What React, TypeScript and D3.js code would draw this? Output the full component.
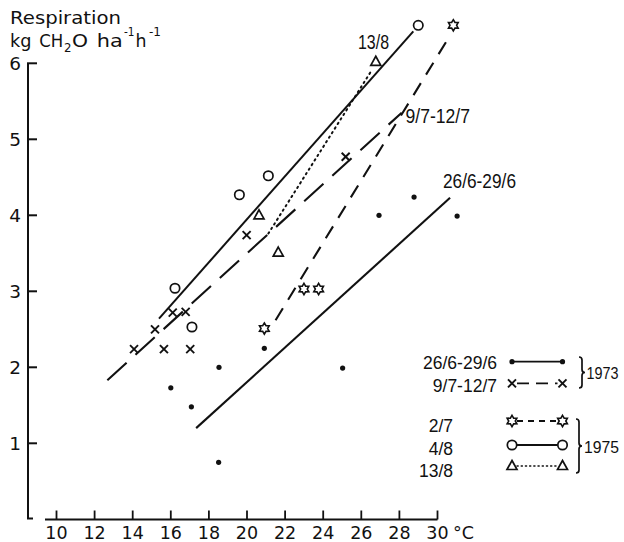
import React from "react";
import * as d3 from "d3";

// ---- data (temperature °C, respiration kg CH2O ha-1 h-1) ----
const xTicks = [10, 12, 14, 16, 18, 20, 22, 24, 26, 28, 30];
const yTicks = [1, 2, 3, 4, 5, 6];

// 1973, 26/6-29/6 (dots)
const pts1973a: [number, number][] = [
  [16.0, 1.73], [17.08, 1.48], [18.53, 2.0], [18.51, 0.75], [20.91, 2.25],
  [25.02, 1.99], [26.93, 4.0], [28.77, 4.24], [31.03, 3.99],
];
const line1973a: [number, number][] = [[17.33, 1.2], [30.66, 4.23]];

// 1973, 9/7-12/7 (crosses)
const pts1973b: [number, number][] = [
  [14.07, 2.24], [15.64, 2.24], [17.02, 2.24], [15.17, 2.5], [16.1, 2.72],
  [16.78, 2.73], [19.98, 3.74], [25.18, 4.77],
];
const line1973b: [number, number][] = [[12.67, 1.83], [28.12, 5.35]];

// 1975, 2/7 (stars)
const pts2_7: [number, number][] = [[20.91, 2.51], [22.99, 3.03], [23.76, 3.03], [30.83, 6.5]];
const line2_7: [number, number][] = [[21.5, 2.62], [30.57, 6.33]];

// 1975, 4/8 (circles)
const pts4_8: [number, number][] = [[16.22, 3.04], [17.11, 2.53], [19.6, 4.27], [21.12, 4.52], [28.99, 6.5]];
const line4_8: [number, number][] = [[15.38, 2.64], [28.73, 6.42]];

// 1975, 13/8 (triangles)
const pts13_8: [number, number][] = [[20.63, 4.0], [21.64, 3.51], [26.76, 6.02]];
const line13_8: [number, number][] = [[21.12, 3.76], [26.55, 5.91]];

type MarkerType = "dot" | "cross" | "star" | "circle" | "triangle";

const legendLabels = ["26/6-29/6", "9/7-12/7", "2/7", "4/8", "13/8"];
const legendMarkers: MarkerType[] = ["dot", "cross", "star", "circle", "triangle"];
const legendDash = ["", "12 7", "6 5", "", "1.2 3"];
const legendYears = ["1973", "1975"];

const x = d3.scaleLinear().domain([10, 30]).range([56.5, 437.5]);
const y = d3.scaleLinear().domain([0, 6]).range([519.3, 63.3]);

const INK = "#111";

function starPath(cx: number, cy: number, R: number, r: number) {
  const pts: [number, number][] = [];
  for (let i = 0; i < 12; i++) {
    const a = -Math.PI / 2 + (i * Math.PI) / 6;
    const rad = i % 2 === 0 ? R : r;
    pts.push([cx + rad * Math.cos(a), cy + rad * Math.sin(a)]);
  }
  return "M" + pts.map((p) => p.join(",")).join("L") + "Z";
}

function Marker({ type, cx, cy }: { type: MarkerType; cx: number; cy: number }) {
  switch (type) {
    case "dot":
      return <circle cx={cx} cy={cy} r={2.6} fill={INK} />;
    case "cross":
      return (
        <g stroke={INK} strokeWidth={1.9}>
          <line x1={cx - 4} y1={cy - 4} x2={cx + 4} y2={cy + 4} />
          <line x1={cx - 4} y1={cy + 4} x2={cx + 4} y2={cy - 4} />
        </g>
      );
    case "star":
      return <path d={starPath(cx, cy, 5.6, 3.3)} fill="white" stroke={INK} strokeWidth={1.6} />;
    case "circle":
      return <circle cx={cx} cy={cy} r={4.7} fill="white" stroke={INK} strokeWidth={1.7} />;
    case "triangle":
      return (
        <path
          d={`M${cx},${cy - 5.5}L${cx + 5},${cy + 3.5}L${cx - 5},${cy + 3.5}Z`}
          fill="white"
          stroke={INK}
          strokeWidth={1.7}
        />
      );
  }
}

function brace(bx: number, y0: number, y1: number, w: number) {
  const ym = (y0 + y1) / 2;
  const r = 3;
  return `M${bx},${y0} Q${bx + w},${y0} ${bx + w},${y0 + r} L${bx + w},${ym - r} Q${bx + w},${ym} ${bx + 2 * w},${ym} Q${bx + w},${ym} ${bx + w},${ym + r} L${bx + w},${y1 - r} Q${bx + w},${y1} ${bx},${y1}`;
}

const lineGen = d3
  .line<[number, number]>()
  .x((d) => x(d[0]))
  .y((d) => y(d[1]));

export default function App() {
  const labelFont = "'Liberation Sans', Arial, sans-serif";
  const axisFont = "'DejaVu Sans', 'Liberation Sans', sans-serif";

  const series: { pts: [number, number][]; line: [number, number][]; type: MarkerType; dash: string; w: number }[] = [
    { pts: pts1973a, line: line1973a, type: "dot", dash: "", w: 2.1 },
    { pts: pts1973b, line: line1973b, type: "cross", dash: "26 12", w: 2.1 },
    { pts: pts2_7, line: line2_7, type: "star", dash: "14 10", w: 2.1 },
    { pts: pts4_8, line: line4_8, type: "circle", dash: "", w: 2.0 },
    { pts: pts13_8, line: line13_8, type: "triangle", dash: "1.4 4", w: 2.0 },
  ];

  const legendRowY = [361.7, 383.3, 421, 445, 466];
  const legendTextY = [369.3, 391.5, 431.5, 455, 476.5];
  const legendTextX = [497, 497, 453, 453, 453];

  // title line 2 pieces: [text, x, width, baseline, size]
  const unitParts: [string, number, number, number, number][] = [
    ["kg", 10, 21.5, 46.7, 18],
    ["CH", 39.3, 24, 46.7, 18],
    ["2", 64, 7.5, 52, 12.5],
    ["O", 72, 16, 46.7, 18],
    ["ha", 96.7, 26, 46.7, 18],
    ["-1", 124, 10.5, 35.5, 11.5],
    ["h", 135.5, 11, 46.7, 18],
    ["-1", 149, 12, 35.5, 11.5],
  ];

  return (
    <svg
      width={624}
      height={542}
      style={{ position: "absolute", left: 0, top: 0, background: "white" }}
    >
      <rect x={0} y={0} width={624} height={542} fill="white" />

      {/* Title */}
      <text x={10} y={24} fontFamily={axisFont} fontSize={18} fill={INK} textLength={111} lengthAdjust="spacingAndGlyphs">
        Respiration
      </text>
      {unitParts.map(([s, px, w, by, fs], i) => (
        <text
          key={"u" + i}
          x={px}
          y={by}
          fontFamily={axisFont}
          fontSize={fs}
          fill={INK}
          textLength={w}
          lengthAdjust="spacingAndGlyphs"
        >
          {s}
        </text>
      ))}

      {/* Y axis */}
      <line x1={28} y1={y(6)} x2={28} y2={518.5} stroke={INK} strokeWidth={2} />
      <line x1={27} y1={518.5} x2={33} y2={518.5} stroke={INK} strokeWidth={2} />
      {yTicks.map((v) => (
        <g key={v}>
          <line x1={27} y1={y(v)} x2={37} y2={y(v)} stroke={INK} strokeWidth={2} />
          <text x={21} y={y(v) + 6.5} textAnchor="end" fontFamily={axisFont} fontSize={18.5} fill={INK}>
            {v}
          </text>
        </g>
      ))}

      {/* X axis */}
      <line x1={45} y1={519.5} x2={x(30)} y2={519.5} stroke={INK} strokeWidth={2} />
      {xTicks.map((t) => (
        <g key={t}>
          <line x1={x(t)} y1={519.5} x2={x(t)} y2={510.5} stroke={INK} strokeWidth={1.8} />
          <text x={x(t)} y={538.5} textAnchor="middle" fontFamily={axisFont} fontSize={17.5} fill={INK}>
            {t}
          </text>
        </g>
      ))}
      <text x={453} y={538.5} fontFamily={axisFont} fontSize={17.5} fill={INK}>
        °C
      </text>

      {/* Lines */}
      {series.map((s, i) => (
        <path
          key={"l" + i}
          d={lineGen(s.line) || ""}
          fill="none"
          stroke={INK}
          strokeWidth={s.w}
          strokeDasharray={s.dash || undefined}
          strokeLinecap={s.type === "triangle" ? "round" : "butt"}
        />
      ))}

      {/* Points */}
      {series.map((s, i) =>
        s.pts.map((p, j) => <Marker key={`m${i}-${j}`} type={s.type} cx={x(p[0])} cy={y(p[1])} />)
      )}

      {/* Inline labels */}
      <text x={358} y={49} fontFamily={labelFont} fontSize={19.5} fill={INK} textLength={31} lengthAdjust="spacingAndGlyphs">
        13/8
      </text>
      <text x={405.5} y={122.7} fontFamily={labelFont} fontSize={19.5} fill={INK} textLength={64.5} lengthAdjust="spacingAndGlyphs">
        9/7-12/7
      </text>
      <text x={443} y={187.7} fontFamily={labelFont} fontSize={19.5} fill={INK} textLength={73} lengthAdjust="spacingAndGlyphs">
        26/6-29/6
      </text>

      {/* Legend */}
      {legendLabels.map((lab, i) => {
        const ly = legendRowY[i];
        const x0 = 512;
        const x1 = 562.5;
        const t = legendMarkers[i];
        const pad = t === "dot" ? 0 : 5;
        return (
          <g key={"lg" + i}>
            <text
              x={legendTextX[i]}
              y={legendTextY[i]}
              textAnchor="end"
              fontFamily={labelFont}
              fontSize={17.5}
              fill={INK}
            >
              {lab}
            </text>
            <line
              x1={x0 + pad}
              y1={ly}
              x2={x1 - pad}
              y2={ly}
              stroke={INK}
              strokeWidth={t === "triangle" ? 1.4 : 1.8}
              strokeDasharray={legendDash[i] || undefined}
              strokeLinecap={t === "triangle" ? "round" : "butt"}
            />
            <Marker type={t} cx={x0} cy={ly} />
            <Marker type={t} cx={x1} cy={ly} />
          </g>
        );
      })}
      <path d={brace(579, 357, 388, 3)} fill="none" stroke={INK} strokeWidth={1.7} />
      <text x={586.5} y={379} fontFamily={labelFont} fontSize={17} fill={INK} textLength={32} lengthAdjust="spacingAndGlyphs">
        {legendYears[0]}
      </text>
      <path d={brace(576, 419, 473, 3)} fill="none" stroke={INK} strokeWidth={1.7} />
      <text x={584} y={453} fontFamily={labelFont} fontSize={17} fill={INK} textLength={35} lengthAdjust="spacingAndGlyphs">
        {legendYears[1]}
      </text>
    </svg>
  );
}
